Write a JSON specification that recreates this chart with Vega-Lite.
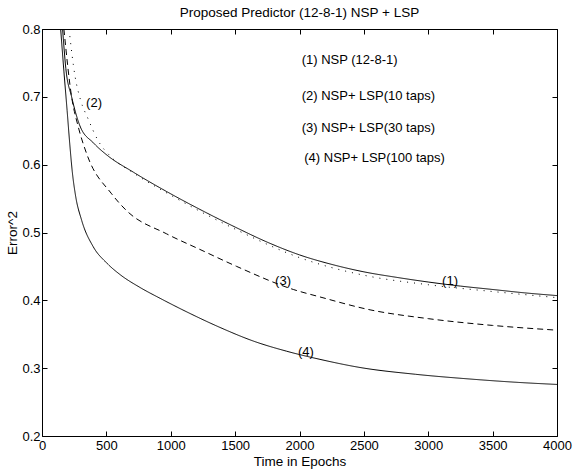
{
  "$schema": "https://vega.github.io/schema/vega-lite/v6.json",
  "width": 515,
  "height": 407,
  "autosize": {"type": "none"},
  "padding": {"left": 42, "top": 29, "right": 19, "bottom": 37},
  "background": "white",
  "title": {"text": "Proposed Predictor (12-8-1) NSP + LSP", "font": "Liberation Sans", "fontSize": 13.5, "fontWeight": "normal", "color": "black", "offset": 4, "anchor": "middle"},
  "config": {
    "view": {"stroke": "black", "strokeWidth": 1},
    "axis": {"grid": false, "domain": false, "tickColor": "black", "tickSize": -5, "tickWidth": 1, "labelFont": "Liberation Sans", "labelFontSize": 13, "labelColor": "black", "titleFont": "Liberation Sans", "titleFontSize": 13.5, "titleFontWeight": "normal", "titleColor": "black"}
  },
  "datasets": {
    "curves": [
      {"x": 160, "y": 0.800, "s": "1"},
      {"x": 185, "y": 0.742, "s": "1"},
      {"x": 230, "y": 0.700, "s": "1"},
      {"x": 295, "y": 0.657, "s": "1"},
      {"x": 400, "y": 0.632, "s": "1"},
      {"x": 505, "y": 0.614, "s": "1"},
      {"x": 709, "y": 0.589, "s": "1"},
      {"x": 1000, "y": 0.557, "s": "1"},
      {"x": 1227, "y": 0.534, "s": "1"},
      {"x": 1500, "y": 0.508, "s": "1"},
      {"x": 1771, "y": 0.484, "s": "1"},
      {"x": 2000, "y": 0.467, "s": "1"},
      {"x": 2250, "y": 0.453, "s": "1"},
      {"x": 2500, "y": 0.442, "s": "1"},
      {"x": 2750, "y": 0.434, "s": "1"},
      {"x": 3000, "y": 0.427, "s": "1"},
      {"x": 3250, "y": 0.421, "s": "1"},
      {"x": 3500, "y": 0.416, "s": "1"},
      {"x": 3750, "y": 0.411, "s": "1"},
      {"x": 4000, "y": 0.407, "s": "1"},
      {"x": 210, "y": 0.800, "s": "2"},
      {"x": 256, "y": 0.731, "s": "2"},
      {"x": 300, "y": 0.695, "s": "2"},
      {"x": 357, "y": 0.668, "s": "2"},
      {"x": 437, "y": 0.635, "s": "2"},
      {"x": 528, "y": 0.613, "s": "2"},
      {"x": 709, "y": 0.588, "s": "2"},
      {"x": 1000, "y": 0.555, "s": "2"},
      {"x": 1500, "y": 0.505, "s": "2"},
      {"x": 2000, "y": 0.463, "s": "2"},
      {"x": 2500, "y": 0.437, "s": "2"},
      {"x": 3000, "y": 0.423, "s": "2"},
      {"x": 3500, "y": 0.413, "s": "2"},
      {"x": 4000, "y": 0.404, "s": "2"},
      {"x": 170, "y": 0.800, "s": "3"},
      {"x": 230, "y": 0.700, "s": "3"},
      {"x": 280, "y": 0.657, "s": "3"},
      {"x": 347, "y": 0.616, "s": "3"},
      {"x": 541, "y": 0.557, "s": "3"},
      {"x": 658, "y": 0.532, "s": "3"},
      {"x": 968, "y": 0.498, "s": "3"},
      {"x": 1227, "y": 0.475, "s": "3"},
      {"x": 1512, "y": 0.450, "s": "3"},
      {"x": 1952, "y": 0.416, "s": "3"},
      {"x": 2159, "y": 0.405, "s": "3"},
      {"x": 2548, "y": 0.386, "s": "3"},
      {"x": 3000, "y": 0.373, "s": "3"},
      {"x": 3500, "y": 0.363, "s": "3"},
      {"x": 4000, "y": 0.356, "s": "3"},
      {"x": 145, "y": 0.800, "s": "4"},
      {"x": 170, "y": 0.738, "s": "4"},
      {"x": 195, "y": 0.680, "s": "4"},
      {"x": 215, "y": 0.632, "s": "4"},
      {"x": 235, "y": 0.590, "s": "4"},
      {"x": 260, "y": 0.555, "s": "4"},
      {"x": 308, "y": 0.518, "s": "4"},
      {"x": 398, "y": 0.479, "s": "4"},
      {"x": 503, "y": 0.455, "s": "4"},
      {"x": 606, "y": 0.438, "s": "4"},
      {"x": 761, "y": 0.419, "s": "4"},
      {"x": 917, "y": 0.403, "s": "4"},
      {"x": 1124, "y": 0.383, "s": "4"},
      {"x": 1383, "y": 0.360, "s": "4"},
      {"x": 1641, "y": 0.340, "s": "4"},
      {"x": 1900, "y": 0.325, "s": "4"},
      {"x": 2159, "y": 0.313, "s": "4"},
      {"x": 2470, "y": 0.301, "s": "4"},
      {"x": 2900, "y": 0.291, "s": "4"},
      {"x": 3324, "y": 0.284, "s": "4"},
      {"x": 3700, "y": 0.279, "s": "4"},
      {"x": 4000, "y": 0.276, "s": "4"}
    ],
    "tags": [
      {"x": 3169, "y": 0.429, "t": "(1)"},
      {"x": 404, "y": 0.691, "t": "(2)"},
      {"x": 1872, "y": 0.429, "t": "(3)"},
      {"x": 2050, "y": 0.324, "t": "(4)"}
    ],
    "notes": [
      {"x": 2017, "y": 0.754, "t": "(1) NSP (12-8-1)"},
      {"x": 2017, "y": 0.701, "t": "(2) NSP+ LSP(10 taps)"},
      {"x": 2017, "y": 0.654, "t": "(3) NSP+ LSP(30 taps)"},
      {"x": 2037, "y": 0.610, "t": "(4) NSP+ LSP(100 taps)"}
    ]
  },
  "resolve": {"axis": {"x": "independent", "y": "independent"}},
  "layer": [
    {
      "data": {"name": "curves"},
      "mark": {"type": "line", "color": "black", "strokeWidth": 1, "interpolate": "monotone", "clip": true},
      "encoding": {
        "x": {"field": "x", "type": "quantitative", "scale": {"domain": [0, 4000], "nice": false, "zero": false},
          "axis": {"orient": "bottom", "values": [0, 500, 1000, 1500, 2000, 2500, 3000, 3500, 4000], "format": "d", "labelPadding": 8, "labelFlush": false, "title": "Time in Epochs", "titlePadding": 2}},
        "y": {"field": "y", "type": "quantitative", "scale": {"domain": [0.2, 0.8], "nice": false, "zero": false},
          "axis": {"orient": "left", "values": [0.2, 0.3, 0.4, 0.5, 0.6, 0.7, 0.8], "format": ".1f", "labelPadding": 7, "labelFlush": false, "title": "Error^2", "titlePadding": 2}},
        "detail": {"field": "s"},
        "strokeDash": {"field": "s", "type": "nominal", "scale": {"domain": ["1", "2", "3", "4"], "range": [[1, 0], [1, 6], [6, 4], [1, 0]]}, "legend": null}
      }
    },
    {
      "data": {"name": "tags"},
      "mark": {"type": "text", "font": "Liberation Sans", "fontSize": 13, "color": "black", "baseline": "middle", "align": "center"},
      "encoding": {
        "x": {"field": "x", "type": "quantitative", "scale": {"domain": [0, 4000], "nice": false, "zero": false},
          "axis": {"orient": "top", "values": [0, 500, 1000, 1500, 2000, 2500, 3000, 3500, 4000], "labels": false, "title": null}},
        "y": {"field": "y", "type": "quantitative", "scale": {"domain": [0.2, 0.8], "nice": false, "zero": false},
          "axis": {"orient": "right", "values": [0.2, 0.3, 0.4, 0.5, 0.6, 0.7, 0.8], "labels": false, "title": null}},
        "text": {"field": "t"}
      }
    },
    {
      "data": {"name": "notes"},
      "mark": {"type": "text", "font": "Liberation Sans", "fontSize": 13, "color": "black", "baseline": "middle", "align": "left"},
      "encoding": {
        "x": {"field": "x", "type": "quantitative", "scale": {"domain": [0, 4000], "nice": false, "zero": false}, "axis": null},
        "y": {"field": "y", "type": "quantitative", "scale": {"domain": [0.2, 0.8], "nice": false, "zero": false}, "axis": null},
        "text": {"field": "t"}
      }
    }
  ]
}
